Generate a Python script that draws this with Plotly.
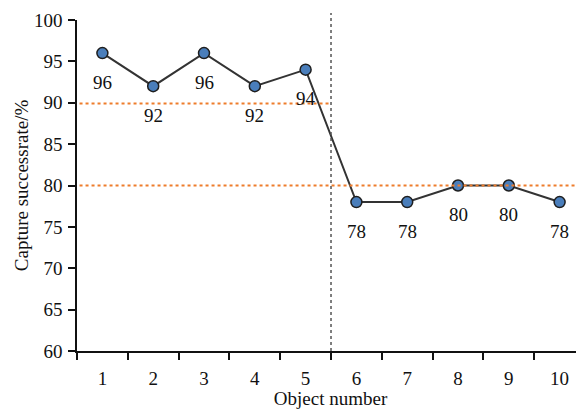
import plotly.graph_objects as go

objects = ["1", "2", "3", "4", "5", "6", "7", "8", "9", "10"]
success_rate = [96, 92, 96, 92, 94, 78, 78, 80, 80, 78]
y_ticks = [60, 65, 70, 75, 80, 85, 90, 95, 100]
threshold_high = 90
threshold_low = 80
split_boundary = 4.5  # between object 5 and 6 (category index)

FONT = "Liberation Serif"

fig = go.Figure()
fig.add_trace(go.Scatter(
    x=objects, y=success_rate, mode="lines+markers",
    line=dict(color="#333333", width=2),
    marker=dict(size=11, color="#4a7ebb", line=dict(color="#1e1e1e", width=1.5)),
    hoverinfo="skip", showlegend=False,
))

for i, (o, v) in enumerate(zip(objects, success_rate)):
    fig.add_annotation(x=i, y=v, text=str(v), showarrow=False, yshift=-29,
                       font=dict(family=FONT, size=19, color="#111111"))

orange = "#ee7d2c"
fig.add_shape(type="line", xref="x", yref="y", x0=-0.45, x1=split_boundary,
              y0=threshold_high - 0.1, y1=threshold_high - 0.1,
              line=dict(color=orange, width=2, dash="dot"))
fig.add_shape(type="line", xref="x", yref="y", x0=-0.45, x1=9.48,
              y0=threshold_low, y1=threshold_low,
              line=dict(color=orange, width=2, dash="dot"))
fig.add_shape(type="line", xref="x", yref="paper", x0=split_boundary, x1=split_boundary,
              y0=0, y1=1.021, line=dict(color="#555555", width=1.5, dash="dot"))

# page body has an 8px default margin, so the figure is 8px smaller and offset
fig.update_layout(
    width=576, height=401,
    margin=dict(l=69, r=0, t=12, b=58),
    paper_bgcolor="white", plot_bgcolor="white",
    font=dict(family=FONT, size=18, color="#111111"),
    xaxis=dict(
        type="category", range=[-0.5, 9.48], tickson="boundaries",
        ticks="outside", ticklen=7, tickwidth=1.5, tickcolor="#111111",
        showline=True, linecolor="#111111", linewidth=1.5,
        showgrid=False, zeroline=False, automargin=False,
        tickfont=dict(family=FONT, size=19), ticklabelstandoff=9,
        title=dict(text="Object number", font=dict(family=FONT, size=19), standoff=2),
    ),
    yaxis=dict(
        range=[60, 100], tickvals=y_ticks,
        ticks="outside", ticklen=7, tickwidth=1.5, tickcolor="#111111",
        showline=True, linecolor="#111111", linewidth=1.5,
        showgrid=False, zeroline=False, automargin=False,
        tickfont=dict(family=FONT, size=19), ticklabelstandoff=2,
        title=dict(text="Capture successrate/%", font=dict(family=FONT, size=19), standoff=0),
    ),
)

fig.write_html("out.html")
